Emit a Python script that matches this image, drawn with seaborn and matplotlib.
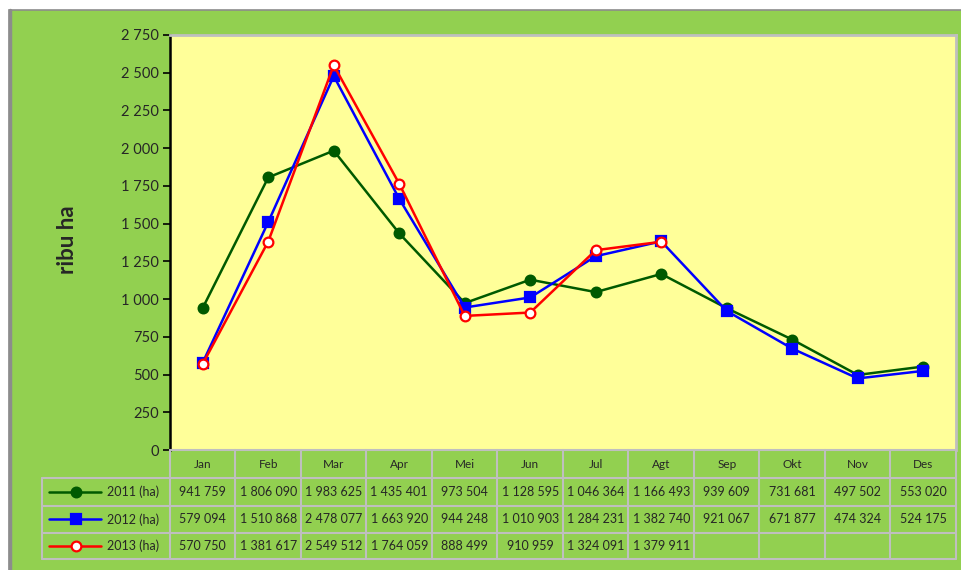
import numpy as np
import pandas as pd
import matplotlib
matplotlib.use("Agg")
import matplotlib.pyplot as plt
import seaborn as sns
from matplotlib.patches import Rectangle
from matplotlib.lines import Line2D
from matplotlib.ticker import FuncFormatter

# data (ha)
months = ["Jan", "Feb", "Mar", "Apr", "Mei", "Jun", "Jul", "Agt", "Sep", "Okt", "Nov", "Des"]
luas_2011 = [941759, 1806090, 1983625, 1435401, 973504, 1128595, 1046364, 1166493, 939609, 731681, 497502, 553020]
luas_2012 = [579094, 1510868, 2478077, 1663920, 944248, 1010903, 1284231, 1382740, 921067, 671877, 474324, 524175]
luas_2013 = [570750, 1381617, 2549512, 1764059, 888499, 910959, 1324091, 1379911, None, None, None, None]
series_labels = ["2011 (ha)", "2012 (ha)", "2013 (ha)"]
y_ticks = [0, 250, 500, 750, 1000, 1250, 1500, 1750, 2000, 2250, 2500, 2750]

GREEN_BG = "#92D050"
YELLOW = "#FFFF99"
GRID = "#BFBFBF"
styles = [
    dict(color="#005A00", marker="o", mfc="#005A00", mec="#005A00"),
    dict(color="#0000FF", marker="s", mfc="#0000FF", mec="#0000FF"),
    dict(color="#FF0000", marker="o", mfc="white", mec="#FF0000"),
]

sns.set_style("white")
plt.rcParams["font.family"] = ["Lato", "DejaVu Sans"]

W, H = 962, 570
fig = plt.figure(figsize=(W / 100, H / 100), dpi=100)
fig.patch.set_facecolor("white")


def fx(px):
    return px / W


def fy(py):
    return 1 - py / H


# outer green frame (behind everything), right/bottom edges run off the canvas
fig.add_artist(Rectangle((fx(9), fy(580)), fx(980) - fx(9), fy(10) - fy(580), transform=fig.transFigure,
                         facecolor=GREEN_BG, edgecolor="#8C8C8C", linewidth=1.2, zorder=-10))
fig.add_artist(Line2D([fx(9.5), fx(9.5)], [0, fy(10)], transform=fig.transFigure,
                      color="#8C8C8C", lw=2.5, zorder=-9))

# main plot area
ax = fig.add_axes([fx(170), fy(450), fx(956) - fx(170), fy(35) - fy(450)])
ax.set_facecolor(YELLOW)

x = np.arange(len(months)) + 0.5
all_series = [luas_2011, luas_2012, luas_2013]
for vals, lab, st in zip(all_series, series_labels, styles):
    df = pd.DataFrame({"x": x, "y": [v / 1000 if v is not None else np.nan for v in vals]}).dropna()
    sns.lineplot(data=df, x="x", y="y", ax=ax, color=st["color"], linewidth=1.8,
                 marker=st["marker"], markersize=7, markerfacecolor=st["mfc"],
                 markeredgecolor=st["mec"], markeredgewidth=1.6, label=lab, legend=False)

ax.set_xlim(0, 12)
ax.set_ylim(0, 2750)
ax.set_yticks(y_ticks)
ax.yaxis.set_major_formatter(FuncFormatter(lambda v, p: f"{int(v):,}".replace(",", " ")))
ax.set_xticks([])
ax.set_xlabel("")
ax.set_ylabel("")
ax.tick_params(axis="y", direction="out", length=5, width=1.2, color="black",
               labelsize=10.5, pad=3, left=True)
ax.spines["left"].set_color("black")
ax.spines["left"].set_linewidth(1.8)
ax.spines["bottom"].set_visible(False)
for s in ["top", "right"]:
    ax.spines[s].set_color(GRID)
    ax.spines[s].set_linewidth(2)

fig.text(fx(68), fy(240), "ribu ha", rotation=90, ha="center", va="center",
         fontsize=16, fontweight="bold")

# data table below the chart
tab = fig.add_axes([fx(42), fy(559), fx(956) - fx(42), fy(450) - fy(559)])
tab.set_xlim(42, 956)
tab.set_ylim(559, 450)
tab.axis("off")
col_w = (956 - 170) / 12
col_edges = [170 + i * col_w for i in range(13)]
row_edges = [450, 478, 506, 533, 559]

# header row (no label cell)
tab.plot([170, 956], [450, 450], color=GRID, lw=1.5, clip_on=False)
for r in row_edges[1:]:
    tab.plot([42, 956], [r, r], color=GRID, lw=1.5, clip_on=False)
for c in col_edges:
    tab.plot([c, c], [450, 559], color=GRID, lw=1.5, clip_on=False)
tab.plot([42, 42], [478, 559], color=GRID, lw=1.5, clip_on=False)

for i, m in enumerate(months):
    tab.text(col_edges[i] + col_w / 2, 464.5, m, ha="center", va="center", fontsize=8.5)


def fmt(v):
    return "" if v is None else f"{v:,}".replace(",", " ")


for r, (vals, lab, st) in enumerate(zip(all_series, series_labels, styles)):
    yc = (row_edges[r + 1] + row_edges[r + 2]) / 2
    tab.add_line(Line2D([49, 101], [yc, yc], color=st["color"], lw=1.8))
    tab.add_line(Line2D([76], [yc], marker=st["marker"], markersize=7, markerfacecolor=st["mfc"],
                        markeredgecolor=st["mec"], markeredgewidth=1.6))
    tab.text(107, yc, lab, ha="left", va="center", fontsize=9)
    for i, v in enumerate(vals):
        tab.text(col_edges[i] + col_w / 2, yc, fmt(v), ha="center", va="center", fontsize=9)

fig.savefig("out.png", dpi=100, facecolor=fig.get_facecolor())
